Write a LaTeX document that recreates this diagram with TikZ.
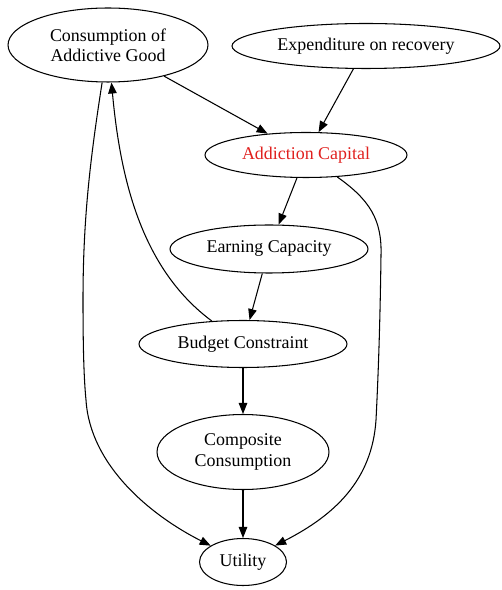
\documentclass[tikz,border=0pt]{standalone}
\usepackage{fontspec}
\setmainfont{Liberation Serif}
\usetikzlibrary{arrows.meta, shapes.geometric}
\definecolor{capred}{HTML}{E0201E}

\begin{document}
\begin{tikzpicture}[
    x=0.02cm, y=-0.02cm,
    box/.style={draw, ellipse, line width=0.6pt, inner sep=0pt, align=center,
                font=\fontsize{10.2}{11.5}\selectfont},
    arr/.style={-{Triangle[length=0.22cm, width=0.17cm]}, line width=0.6pt},
  ]
  \useasboundingbox (0,0) rectangle (502,590);

  % Top row
  \node[box, minimum width=4cm, minimum height=1.48cm] (cons) at (108,45) {Consumption of\\Addictive Good};
  \node[box, minimum width=5.36cm, minimum height=0.9cm] (exp) at (366,46) {Expenditure on recovery};

  % Middle chain
  \node[box, minimum width=4.04cm, minimum height=0.9cm, text=capred] (addcap) at (306,155) {Addiction Capital};
  \node[box, minimum width=3.96cm, minimum height=0.96cm] (earn) at (269,249) {Earning Capacity};
  \node[box, minimum width=4.16cm, minimum height=0.94cm] (budget) at (243,344) {Budget Constraint};
  \node[box, minimum width=3.44cm, minimum height=1.5cm] (comp) at (243,452) {Composite\\Consumption};

  % Bottom
  \node[box, minimum width=1.74cm, minimum height=0.94cm] (util) at (243,562) {Utility};

  % Arrows
  \draw[arr] (cons) -- (addcap);
  \draw[arr] (exp) -- (addcap);
  \draw[arr] (addcap) -- (earn);
  \draw[arr] (earn) -- (budget);
  \draw[arr] (budget) -- (comp);
  \draw[arr] (comp) -- (util);
  \draw[arr] (budget) .. controls (140,268) and (120,175) .. (cons);
  \draw[arr] (cons) .. controls (90,160) and (83,220) .. (83,300)
                    .. controls (83,350) and (84,380) .. (86,400)
                    .. controls (90,465) and (150,515) .. (util);
  \draw[arr] (addcap) .. controls (370,200) and (382,220) .. (381,255)
                      .. controls (380,330) and (378,380) .. (376,420)
                      .. controls (372,480) and (335,515) .. (util);

\end{tikzpicture}
\end{document}
